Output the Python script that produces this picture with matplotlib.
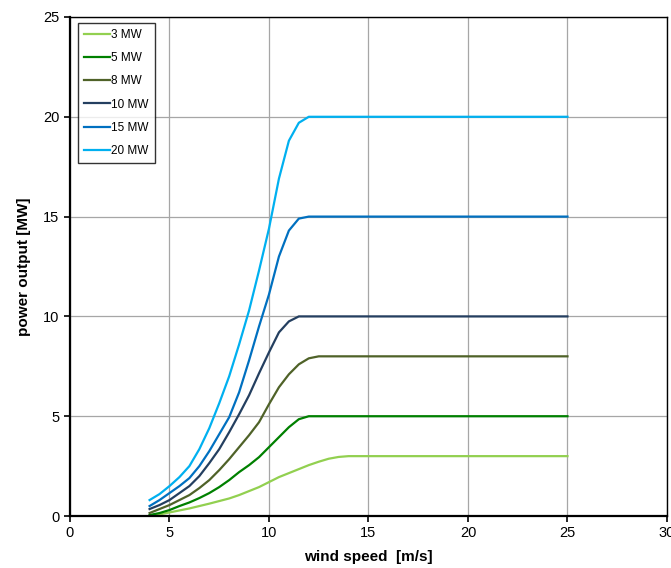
import matplotlib
matplotlib.use("Agg")
import matplotlib.pyplot as plt

plt.rcParams['font.family'] = ['Liberation Sans', 'DejaVu Sans']

# wind speed points [m/s]
ws = [4.0, 4.5, 5.0, 5.5, 6.0, 6.5, 7.0, 7.5, 8.0, 8.5, 9.0, 9.5,
      10.0, 10.5, 11.0, 11.5, 12.0, 12.5, 13.0, 13.5, 14.0, 25.0]

# power output [MW]
p3 = [0.0, 0.08, 0.18, 0.28, 0.38, 0.5, 0.62, 0.75, 0.88, 1.05, 1.25, 1.45,
      1.7, 1.95, 2.15, 2.35, 2.55, 2.72, 2.87, 2.96, 3.0, 3.0]
p5 = [0.05, 0.15, 0.3, 0.5, 0.68, 0.9, 1.15, 1.45, 1.8, 2.2, 2.55, 2.95,
      3.45, 3.95, 4.45, 4.85, 5.0, 5.0, 5.0, 5.0, 5.0, 5.0]
p8 = [0.15, 0.35, 0.55, 0.8, 1.05, 1.4, 1.8, 2.3, 2.85, 3.45, 4.05, 4.7,
      5.6, 6.45, 7.1, 7.6, 7.9, 8.0, 8.0, 8.0, 8.0, 8.0]
p10 = [0.35, 0.55, 0.8, 1.15, 1.5, 2.0, 2.65, 3.35, 4.2, 5.1, 6.05, 7.15,
       8.2, 9.2, 9.75, 10.0, 10.0, 10.0, 10.0, 10.0, 10.0, 10.0]
p15 = [0.5, 0.8, 1.15, 1.5, 1.9, 2.5, 3.25, 4.1, 4.95, 6.2, 7.8, 9.5,
       11.1, 13.0, 14.3, 14.9, 15.0, 15.0, 15.0, 15.0, 15.0, 15.0]
p20 = [0.8, 1.1, 1.5, 1.95, 2.5, 3.35, 4.4, 5.65, 7.0, 8.6, 10.3, 12.3,
       14.4, 16.9, 18.8, 19.7, 20.0, 20.0, 20.0, 20.0, 20.0, 20.0]

labels = ['3 MW', '5 MW', '8 MW', '10 MW', '15 MW', '20 MW']
colors = ['#92D050', '#008000', '#4F6228', '#243F60', '#0070C0', '#00B0F0']

fig = plt.figure(figsize=(6.71, 5.68), dpi=100)
ax = fig.add_axes([0.1043, 0.0915, 0.8897, 0.8786])

for p, lab, c in zip([p3, p5, p8, p10, p15, p20], labels, colors):
    ax.plot(ws, p, color=c, lw=1.6, label=lab)

ax.set_xlim(0, 30)
ax.set_ylim(0, 25)
ax.set_xticks(range(0, 31, 5))
ax.set_yticks(range(0, 26, 5))
ax.grid(True, color='#A6A6A6', lw=0.9)
ax.set_axisbelow(True)
for s in ax.spines.values():
    s.set_linewidth(1.0)
    s.set_color('black')
ax.spines['left'].set_linewidth(1.6)
ax.spines['bottom'].set_linewidth(1.6)
ax.tick_params(direction='out', length=4, width=1.2, labelsize=10.5)

ax.set_xlabel('wind speed  [m/s]', fontsize=11, fontweight='bold', labelpad=7)
ax.set_ylabel('power output [MW]', fontsize=11, fontweight='bold', labelpad=9)

leg = ax.legend(loc='upper left', bbox_to_anchor=(0.013, 0.988), borderaxespad=0,
                fontsize=8.5, frameon=True, fancybox=False, handlelength=2.25,
                handletextpad=0.1, labelspacing=0.95, borderpad=0.5)
leg.get_frame().set_edgecolor('black')
leg.get_frame().set_linewidth(1.0)

fig.savefig('out.png', dpi=100)
